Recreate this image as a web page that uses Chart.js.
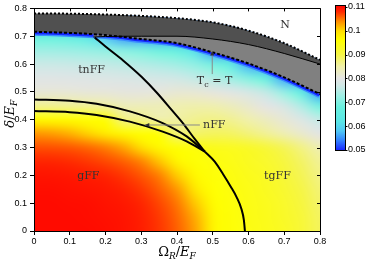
<!DOCTYPE html>
<html><head><meta charset="utf-8">
<script src="https://cdn.jsdelivr.net/npm/chart.js@4.4.0/dist/chart.umd.min.js"></script>
<style>html,body{margin:0;padding:0;background:#fff;}#wrap{position:relative;width:366px;height:260px;}</style>
</head><body><div id="wrap"><canvas id="c" width="366" height="260"></canvas></div>
<script>
// ---------- data ----------
const omegaGrid = [0,0.05,0.1,0.15,0.2,0.25,0.3,0.35,0.4,0.45,0.5,0.55,0.6,0.65,0.7,0.75,0.8];
const deltaGrid = [0,0.05,0.1,0.15,0.2,0.25,0.3,0.35,0.4,0.45,0.5,0.55,0.6,0.65,0.7,0.75];
const heatRows = [
 [.1100,.1100,.1100,.1100,.1098,.1095,.1088,.1075,.1058,.1030,.0972,.0955,.0945,.0938,.0928,.0912,.0890],
 [.1100,.1100,.1100,.1099,.1097,.1094,.1086,.1073,.1055,.1024,.0970,.0954,.0944,.0937,.0926,.0910,.0887],
 [.1100,.1100,.1099,.1098,.1095,.1091,.1082,.1068,.1048,.1010,.0965,.0952,.0942,.0934,.0922,.0905,.0882],
 [.1098,.1098,.1096,.1094,.1091,.1085,.1074,.1058,.1034,.0988,.0958,.0949,.0940,.0931,.0918,.0899,.0876],
 [.1094,.1093,.1091,.1088,.1083,.1074,.1062,.1045,.1008,.0968,.0953,.0946,.0937,.0927,.0912,.0892,.0868],
 [.1083,.1082,.1079,.1074,.1067,.1058,.1043,.1012,.0972,.0956,.0948,.0941,.0932,.0921,.0905,.0884,.0860],
 [.1065,.1064,.1061,.1055,.1045,.1027,.0998,.0968,.0955,.0948,.0938,.0933,.0926,.0910,.0891,.0868,.0842],
 [.1035,.1031,.1021,.1005,.0983,.0968,.0958,.0952,.0874,.0882,.0888,.0886,.0874,.0860,.0842,.0820,.0798],
 [.0966,.0965,.0963,.0958,.0954,.0870,.0868,.0850,.0854,.0864,.0868,.0862,.0848,.0831,.0812,.0788,.0760],
 [.0862,.0862,.0860,.0858,.0855,.0838,.0836,.0838,.0844,.0847,.0845,.0834,.0818,.0800,.0778,.0740,.0690],
 [.0812,.0812,.0811,.0809,.0808,.0806,.0805,.0807,.0814,.0812,.0805,.0794,.0778,.0757,.0718,.0648,.0550],
 [.0792,.0792,.0791,.0789,.0787,.0784,.0779,.0774,.0769,.0759,.0745,.0726,.0702,.0664,.0560,.0550,.0550],
 [.0766,.0765,.0763,.0760,.0757,.0752,.0745,.0738,.0729,.0714,.0692,.0650,.0565,.0550,.0550,.0550,.0550],
 [.0728,.0727,.0724,.0720,.0715,.0707,.0697,.0684,.0665,.0610,.0552,.0550,.0550,.0550,.0550,.0550,.0550],
 [.0670,.0665,.0650,.0620,.0580,.0552,.0550,.0550,.0550,.0550,.0550,.0550,.0550,.0550,.0550,.0550,.0550],
 [.0550,.0550,.0550,.0550,.0550,.0550,.0550,.0550,.0550,.0550,.0550,.0550,.0550,.0550,.0550,.0550,.0550]
];
// normal-state boundary (dotted)
const nOmega = [0,0.1,0.2,0.3,0.4,0.5,0.6,0.7,0.8];
const nDelta = [0.782,0.781,0.778,0.773,0.765,0.75,0.72,0.675,0.615];
// Tc = T boundary (dashed)
const tcOmega = [0,0.1,0.2,0.3,0.4,0.5,0.6,0.7,0.8];
const tcDelta = [0.716,0.712,0.704,0.69,0.675,0.642,0.602,0.552,0.492];
// thin solid line inside the grey band
const solidOmega = [0.166,0.2,0.3,0.4,0.5,0.6,0.7,0.8];
const solidDelta = [0.697,0.699,0.70,0.70,0.69,0.67,0.638,0.60];
// thick phase boundaries
const tnOmega = [0.170,0.20,0.25,0.30,0.345,0.385,0.418,0.45,0.478];
const tnDelta = [0.695,0.663,0.612,0.555,0.495,0.435,0.385,0.33,0.285];
const upOmega = [0,0.1,0.175,0.268,0.36,0.427,0.478];
const upDelta = [0.473,0.468,0.457,0.43,0.388,0.34,0.285];
const loOmega = [0,0.1,0.175,0.268,0.36,0.427,0.478];
const loDelta = [0.431,0.427,0.417,0.393,0.357,0.322,0.285];
const tgOmega = [0.478,0.505,0.529,0.55,0.567,0.58,0.587,0.59];
const tgDelta = [0.285,0.25,0.204,0.16,0.121,0.08,0.04,0];
const axisTicks = [0,0.1,0.2,0.3,0.4,0.5,0.6,0.7,0.8];
const cbarTicks = [0.05,0.06,0.07,0.08,0.09,0.1,0.11];
const cbarMin = 0.05, cbarMax = 0.1108;

// ---------- styles ----------
const cmap = [[0.050,[25,40,255]],[0.054,[50,130,255]],[0.058,[80,200,245]],[0.062,[90,230,230]],
 [0.068,[105,240,222]],[0.072,[150,240,228]],[0.077,[208,232,230]],[0.080,[228,228,228]],
 [0.085,[240,240,170]],[0.090,[245,245,70]],[0.096,[255,255,0]],[0.100,[255,220,0]],
 [0.104,[255,140,0]],[0.108,[255,40,0]],[0.1108,[255,0,0]]];
function colorOf(v){
  if (v<=cmap[0][0]) return cmap[0][1];
  for (let i=1;i<cmap.length;i++){
    if (v<=cmap[i][0]){
      const a=cmap[i-1], b=cmap[i], t=(v-a[0])/(b[0]-a[0]);
      return [0,1,2].map(k=>Math.round(a[1][k]+(b[1][k]-a[1][k])*t));
    }
  }
  return cmap[cmap.length-1][1];
}
const pts = (xs, ys) => xs.map((x,i)=>({x, y: ys[i]}));
const labelFont = '11px "DejaVu Serif"';
const regionLabels = [
  {t:'N', x:0.702, y:0.74},
  {t:'tnFF', x:0.161, y:0.577},
  {t:'gFF', x:0.152, y:0.198},
  {t:'tgFF', x:0.681, y:0.198}
];
const annot = {
  nff: {from:[0.464,0.381], to:[0.31,0.381], label:[0.473,0.381]},
  tc: {from:[0.4986,0.564], to:[0.4986,0.647], label:[0.505,0.542]}
};

const heatPlugin = {
  id:'heat',
  beforeDatasetsDraw(chart){
    const {ctx, chartArea:ca, scales:{x,y}} = chart;
    const nx = omegaGrid.length, ny = deltaGrid.length;
    const off = document.createElement('canvas'); off.width=nx; off.height=ny;
    const octx = off.getContext('2d');
    const img = octx.createImageData(nx, ny);
    for (let j=0;j<ny;j++) for (let i=0;i<nx;i++){
      const c = colorOf(heatRows[j][i]);
      const p = ((ny-1-j)*nx+i)*4;
      img.data[p]=c[0]; img.data[p+1]=c[1]; img.data[p+2]=c[2]; img.data[p+3]=255;
    }
    octx.putImageData(img,0,0);
    const dO = omegaGrid[1]-omegaGrid[0], dD = deltaGrid[1]-deltaGrid[0];
    const x0 = x.getPixelForValue(omegaGrid[0]-dO/2), x1 = x.getPixelForValue(omegaGrid[nx-1]+dO/2);
    const y0 = y.getPixelForValue(deltaGrid[ny-1]+dD/2), y1 = y.getPixelForValue(deltaGrid[0]-dD/2);
    ctx.save();
    ctx.beginPath(); ctx.rect(ca.left, ca.top, ca.right-ca.left, ca.bottom-ca.top); ctx.clip();
    ctx.imageSmoothingEnabled = true; ctx.imageSmoothingQuality='high';
    ctx.drawImage(off, x0, y0, x1-x0, y1-y0);
    ctx.restore();
  }
};

function drawParts(ctx, parts, cx, baseY){
  let w=0;
  parts.forEach(p=>{ctx.font=p.f; p.w=ctx.measureText(p.t).width; w+=p.w;});
  let xx = cx - w/2;
  parts.forEach(p=>{ctx.font=p.f; ctx.fillText(p.t, xx, baseY+(p.dy||0)); xx+=p.w;});
}
function arrow(ctx, x1,y1,x2,y2){
  ctx.strokeStyle='#8a8a8a'; ctx.lineWidth=1;
  ctx.beginPath(); ctx.moveTo(x1,y1); ctx.lineTo(x2,y2); ctx.stroke();
  const a=Math.atan2(y2-y1,x2-x1), L=4.5, W=2;
  ctx.fillStyle='#303030';
  ctx.beginPath(); ctx.moveTo(x2,y2);
  ctx.lineTo(x2-L*Math.cos(a)+W*Math.sin(a), y2-L*Math.sin(a)-W*Math.cos(a));
  ctx.lineTo(x2-L*Math.cos(a)-W*Math.sin(a), y2-L*Math.sin(a)+W*Math.cos(a));
  ctx.closePath(); ctx.fill();
}

const decoPlugin = {
  id:'deco',
  afterDatasetsDraw(chart){
    const {ctx, chartArea:ca, scales:{x,y}} = chart;
    ctx.save();
    ctx.fillStyle='#333'; ctx.font=labelFont; ctx.textAlign='center'; ctx.textBaseline='middle';
    regionLabels.forEach(l=>ctx.fillText(l.t, x.getPixelForValue(l.x), y.getPixelForValue(l.y)));
    arrow(ctx, x.getPixelForValue(annot.nff.from[0]), y.getPixelForValue(annot.nff.from[1]),
               x.getPixelForValue(annot.nff.to[0]), y.getPixelForValue(annot.nff.to[1]));
    arrow(ctx, x.getPixelForValue(annot.tc.from[0]), y.getPixelForValue(annot.tc.from[1]),
               x.getPixelForValue(annot.tc.to[0]), y.getPixelForValue(annot.tc.to[1]));
    ctx.fillStyle='#333'; ctx.textAlign='left'; ctx.textBaseline='middle'; ctx.font=labelFont;
    ctx.fillText('nFF', x.getPixelForValue(annot.nff.label[0]), y.getPixelForValue(annot.nff.label[1]));
    ctx.textBaseline='alphabetic';
    drawParts(ctx, [{t:'T',f:labelFont},{t:'c',f:'8px "DejaVu Serif"',dy:2.5},{t:' = T',f:labelFont}],
      x.getPixelForValue(annot.tc.label[0]), y.getPixelForValue(annot.tc.label[1])+4);
    ctx.strokeStyle='#000'; ctx.lineWidth=1;
    ctx.beginPath();
    ctx.rect(Math.round(ca.left)+0.5, Math.round(ca.top)+0.5, Math.round(ca.right-ca.left), Math.round(ca.bottom-ca.top));
    axisTicks.forEach(v=>{
      const px=Math.round(x.getPixelForValue(v))+0.5;
      ctx.moveTo(px, ca.top); ctx.lineTo(px, ca.top+3);
      const py=Math.round(y.getPixelForValue(v))+0.5;
      ctx.moveTo(ca.right, py); ctx.lineTo(ca.right-3, py);
    });
    ctx.stroke();
    ctx.restore();
  },
  afterDraw(chart){
    const {ctx, chartArea:ca} = chart;
    ctx.save();
    ctx.fillStyle='#000'; ctx.textAlign='left'; ctx.textBaseline='alphabetic';
    drawParts(ctx, [{t:'Ω',f:'13px "DejaVu Serif"'},{t:'R',f:'italic 9px "DejaVu Serif"',dy:3},
      {t:'/',f:'13px "DejaVu Serif"'},{t:'E',f:'italic 13px "DejaVu Serif"'},{t:'F',f:'italic 9px "DejaVu Serif"',dy:3}],
      (ca.left+ca.right)/2, 256);
    ctx.translate(14, (ca.top+ca.bottom)/2-6);
    ctx.rotate(-Math.PI/2);
    drawParts(ctx, [{t:'δ',f:'italic 13px "DejaVu Serif"'},{t:'/',f:'13px "DejaVu Serif"'},
      {t:'E',f:'italic 13px "DejaVu Serif"'},{t:'F',f:'italic 9px "DejaVu Serif"',dy:3}], 0, 0);
    ctx.restore();
    ctx.save();
    const bx0=335, bx1=345, byTop=5, byBot=150;
    const vy = v => byBot - (v-cbarMin)/(cbarMax-cbarMin)*(byBot-byTop);
    const g = ctx.createLinearGradient(0, byBot, 0, byTop);
    cmap.forEach(s=>g.addColorStop(Math.min(1,Math.max(0,(s[0]-cbarMin)/(cbarMax-cbarMin))), 'rgb('+s[1].join(',')+')'));
    ctx.fillStyle=g; ctx.fillRect(bx0, byTop, bx1-bx0, byBot-byTop);
    ctx.strokeStyle='#000'; ctx.lineWidth=1;
    ctx.strokeRect(bx0+0.5, byTop+0.5, bx1-bx0, byBot-byTop);
    ctx.fillStyle='#000'; ctx.font='9px "Liberation Sans"'; ctx.textBaseline='middle'; ctx.textAlign='left';
    ctx.beginPath();
    cbarTicks.forEach(v=>{
      const py=Math.round(vy(v))+0.5;
      ctx.moveTo(bx1, py); ctx.lineTo(bx1+2.5, py);
      ctx.fillText(String(v), bx1+3, vy(v));
    });
    ctx.stroke();
    ctx.restore();
  }
};

const lineBase = {pointRadius:0, pointHoverRadius:0, clip:0, cubicInterpolationMode:'monotone', fill:false};
new Chart(document.getElementById('c'), {
  type:'line',
  data:{datasets:[
    Object.assign({}, lineBase, {label:'glowWide', data:pts(tcOmega,tcDelta), borderColor:'#3a8cff', borderWidth:8, order:20}),
    Object.assign({}, lineBase, {label:'glow', data:pts(tcOmega,tcDelta), borderColor:'#1428ff', borderWidth:5, order:19}),
    Object.assign({}, lineBase, {label:'normal', data:pts(nOmega,nDelta), borderWidth:0, fill:'end', backgroundColor:'#ffffff', order:18}),
    Object.assign({}, lineBase, {label:'Nband', data:pts(nOmega,nDelta), borderColor:'#000', borderWidth:2, borderDash:[2,2], fill:5, backgroundColor:'#505050', order:17}),
    Object.assign({}, lineBase, {label:'solid', data:pts(solidOmega,solidDelta), borderColor:'#000', borderWidth:1, fill:5, backgroundColor:'#808080', order:16}),
    Object.assign({}, lineBase, {label:'Tc', data:pts(tcOmega,tcDelta), borderColor:'#000', borderWidth:2, borderDash:[3,2], order:15}),
    Object.assign({}, lineBase, {label:'tn', data:pts(tnOmega,tnDelta), borderColor:'#000', borderWidth:2, order:4}),
    Object.assign({}, lineBase, {label:'up', data:pts(upOmega,upDelta), borderColor:'#000', borderWidth:2, order:3}),
    Object.assign({}, lineBase, {label:'lo', data:pts(loOmega,loDelta), borderColor:'#000', borderWidth:2, order:2}),
    Object.assign({}, lineBase, {label:'tg', data:pts(tgOmega,tgDelta), borderColor:'#000', borderWidth:2, order:1})
  ]},
  options:{
    responsive:false, animation:false, devicePixelRatio:1,
    layout:{padding:{left:0, right:46, top:5, bottom:0}},
    plugins:{legend:{display:false}, tooltip:{enabled:false}},
    scales:{
      x:{type:'linear', min:0, max:0.8,
        afterFit:s=>{s.height=29;},
        afterBuildTicks:s=>{s.ticks=axisTicks.map(v=>({value:v}));},
        ticks:{color:'#000', font:{family:'Liberation Sans', size:9}, padding:1, maxRotation:0, autoSkip:false},
        grid:{drawOnChartArea:false, color:'#000', tickLength:4, tickColor:'#000'},
        border:{display:true, color:'#000', width:1}},
      y:{type:'linear', min:0, max:0.8,
        afterFit:s=>{s.width=34;},
        afterBuildTicks:s=>{s.ticks=axisTicks.map(v=>({value:v}));},
        ticks:{color:'#000', font:{family:'Liberation Sans', size:9}, padding:3, autoSkip:false},
        grid:{drawOnChartArea:false, color:'#000', tickLength:4, tickColor:'#000'},
        border:{display:true, color:'#000', width:1}}
    }
  },
  plugins:[heatPlugin, decoPlugin]
});
</script></body></html>
